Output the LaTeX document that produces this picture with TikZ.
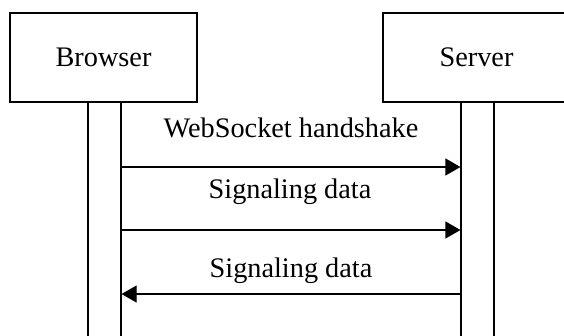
\documentclass[tikz,border=0pt]{standalone}
\usepackage{fontspec}
\setmainfont{Liberation Serif}
\usetikzlibrary{arrows.meta}
\tikzset{
  lifebox/.style={draw, line width=1.2pt, minimum width=187pt, minimum height=89pt, inner sep=0pt, font=\fontsize{28.3}{34}\selectfont},
  actbar/.style={draw, line width=1.2pt, minimum width=33pt, minimum height=240pt, inner sep=0pt},
  msg/.style={line width=1.2pt, -{Triangle[length=15pt,width=17pt]}},
  lbl/.style={anchor=base, inner sep=0pt, font=\fontsize{28.3}{34}\selectfont}
}
\begin{document}
\begin{tikzpicture}[x=1pt,y=-1pt]
\useasboundingbox (0,0) rectangle (564,335);
\clip (0,0) rectangle (564,335);
\node[lifebox] (browser) at (103.5,57.5) {Browser};
\node[lifebox] (server) at (476.5,57.5) {Server};
\node[actbar, anchor=north] (bbar) at (104.5,102) {};
\node[actbar, anchor=north] (sbar) at (477.5,102) {};
\coordinate (m1) at (0,167);
\coordinate (m2) at (0,230);
\coordinate (m3) at (0,294);
\draw[msg] (bbar.east |- m1) -- (sbar.west |- m1);
\draw[msg] (bbar.east |- m2) -- (sbar.west |- m2);
\draw[msg] (sbar.west |- m3) -- (bbar.east |- m3);
\node[lbl] (l1) at (291,137) {WebSocket handshake};
\node[lbl] (l2) at (290,198) {Signaling data};
\node[lbl] (l3) at (291,277) {Signaling data};
\end{tikzpicture}
\end{document}
